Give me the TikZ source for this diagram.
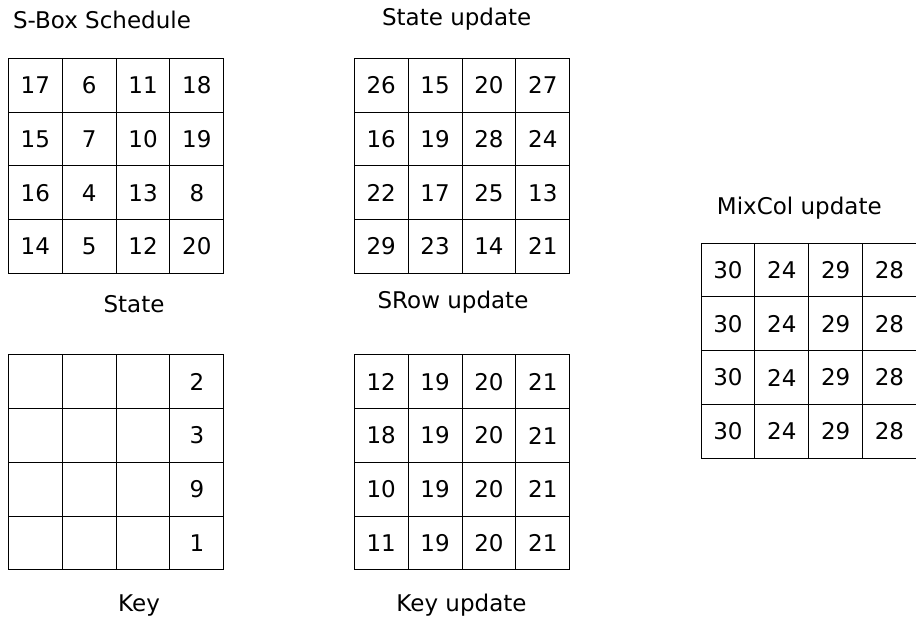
\documentclass[tikz,border=0pt]{standalone}
\usepackage{fontspec}
\setmainfont{DejaVu Sans}
\begin{document}
\begin{tikzpicture}[x=1pt,y=-1pt,
  cell/.style={draw, line width=1pt, minimum width=53.85pt, minimum height=53.7pt,
    inner sep=0pt, font=\fontsize{23}{28}\selectfont},
  caption/.style={anchor=base, inner sep=0pt, font=\fontsize{23}{28}\selectfont}]
\useasboundingbox (0,0) rectangle (916,620);

% #1 name prefix, #2 left, #3 top, #4 rows as {r/{a,b,c,d},...}
\newcommand\cellgrid[4]{%
  \foreach \r/\row in {#4} {%
    \foreach \v [count=\c from 0] in \row {%
      \node[cell] (#1-\r-\c) at ({#2+26.925+\c*53.85},{#3+26.85+\r*53.7}) {\v};
    }%
  }%
}

% S-Box schedule
\cellgrid{sbox}{8.4}{58.5}{0/{17,6,11,18},1/{15,7,10,19},2/{16,4,13,8},3/{14,5,12,20}}
\node[caption] (tsbox) at (102,28.5) {S-Box Schedule};

% state update
\cellgrid{stu}{354.3}{58.4}{0/{26,15,20,27},1/{16,19,28,24},2/{22,17,25,13},3/{29,23,14,21}}
\node[caption] (tstu) at (456.7,26) {State update};

% key
\node[caption] (tstate) at (134,312.7) {State};
\cellgrid{key}{8.4}{355}{0/{{},{},{},2},1/{{},{},{},3},2/{{},{},{},9},3/{{},{},{},1}}
\node[caption] (tkey) at (139,611.7) {Key};

% key update
\node[caption] (tsrow) at (453,309) {SRow update};
\cellgrid{keyu}{354.3}{355}{0/{12,19,20,21},1/{18,19,20,21},2/{10,19,20,21},3/{11,19,20,21}}
\node[caption] (tkeyu) at (461.5,611.7) {Key update};

% mixcol update
\node[caption] (tmix) at (799.3,214.3) {MixCol update};
\cellgrid{mix}{701}{243.3}{0/{30,24,29,28},1/{30,24,29,28},2/{30,24,29,28},3/{30,24,29,28}}
\end{tikzpicture}
\end{document}
